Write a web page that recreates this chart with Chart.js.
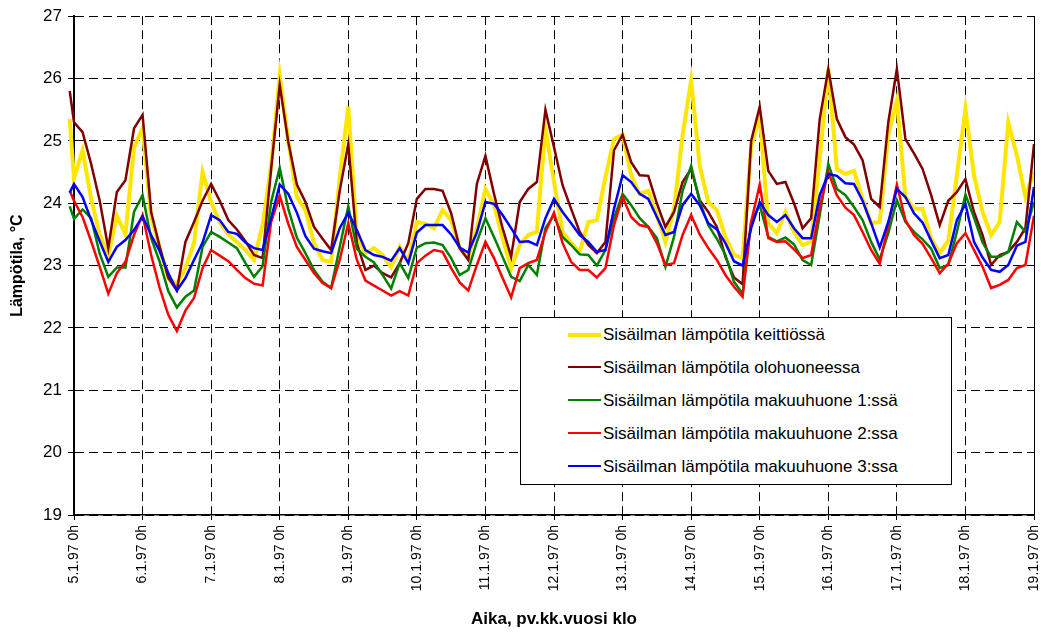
<!DOCTYPE html>
<html lang="fi">
<head>
<meta charset="utf-8">
<title>Sisäilman lämpötilat 5.1.–19.1.1997</title>
<script src="https://cdn.jsdelivr.net/npm/chart.js@4/dist/chart.umd.min.js"></script>
<style>
    html, body { margin: 0; padding: 0; background: #fff; }
    #wrap { position: relative; width: 1041px; height: 632px; }
    #legend {
        position: absolute; left: 520px; top: 317px; width: 430px; height: 166px;
        border: 1px solid #000; background: #fff;
        font: 17px "Liberation Sans", Arial, sans-serif; color: #000;
    }
    #legend .row { position: absolute; left: 0; height: 33px; line-height: 33px; white-space: nowrap; }
    #legend .swatch { position: absolute; left: 47px; top: 15px; width: 33px; }
    #legend .txt { position: absolute; left: 82px; top: 0; }
</style>
</head>
<body>
<div id="wrap">
    <canvas id="lampoChart" width="1041" height="632"></canvas>
    <div id="legend"></div>
</div>
<script>
(function () {
    // aikaleimat tunteina alkaen 5.1.97 klo 0, mittaus 3 h välein
    const DAY_LABELS = ['5.1.97 0h', '6.1.97 0h', '7.1.97 0h', '8.1.97 0h', '9.1.97 0h',
        '10.1.97 0h', '11.1.97 0h', '12.1.97 0h', '13.1.97 0h', '14.1.97 0h',
        '15.1.97 0h', '16.1.97 0h', '17.1.97 0h', '18.1.97 0h', '19.1.97 0h'];
    const HOURS = [-1.5];
    for (let h = 0; h <= 336; h += 3) HOURS.push(h);
    HOURS.push(337.5);

    // --- lämpötilat, °C (rivi = vuorokausi, klo 0, 3, ..., 21) ---
    const KEITTIO = [25.35,
        24.4, 24.85, 24.07, 23.5, 23.17, 23.8, 23.5, 24.9,
        25.2, 23.78, 23.28, 22.8, 22.7, 22.96, 23.36, 24.5,
        24.02, 23.7, 23.5, 23.38, 23.25, 23.09, 23.65, 24.6,
        26.05, 25.0, 24.1, 23.89, 23.36, 23.09, 23.06, 24.4,
        25.55, 23.46, 23.2, 23.28, 23.17, 22.98, 23.3, 23.06,
        23.7, 23.67, 23.6, 23.89, 23.73, 23.28, 23.14, 23.6,
        24.23, 23.97, 23.44, 22.96, 23.33, 23.49, 23.54, 25.2,
        24.34, 23.54, 23.36, 23.22, 23.7, 23.73, 24.42, 25.03,
        25.1, 24.45, 24.15, 24.2, 23.81, 23.38, 23.91, 25.09,
        25.97, 24.6, 24.02, 23.89, 23.46, 23.17, 23.12, 24.9,
        25.4, 23.68, 23.52, 23.86, 23.54, 23.33, 23.38, 24.7,
        26.15, 24.55, 24.47, 24.52, 24.07, 23.68, 23.7, 25.1,
        25.65, 24.1, 23.91, 23.91, 23.44, 23.2, 23.4, 24.45,
        25.51, 24.45, 23.86, 23.49, 23.7, 25.3, 24.77, 24.1,
        24.5, 24.34];

    const OLOHUONE = [25.8,
        25.3, 25.14, 24.63, 24.04, 23.28, 24.18, 24.37, 25.2,
        25.42, 23.86, 23.3, 22.8, 22.6, 23.38, 23.7, 24.04,
        24.31, 24.04, 23.73, 23.58, 23.39, 23.17, 23.12, 24.55,
        25.9, 24.98, 24.3, 24.02, 23.62, 23.43, 23.25, 24.2,
        24.95, 23.36, 22.93, 23.0, 22.88, 22.81, 23.04, 23.36,
        24.07, 24.23, 24.23, 24.2, 23.84, 23.28, 23.09, 24.31,
        24.76, 24.15, 23.6, 23.14, 24.02, 24.23, 24.34, 25.5,
        24.9, 24.29, 23.91, 23.54, 23.33, 23.2, 23.38, 24.85,
        25.1, 24.66, 24.45, 24.44, 24.0, 23.62, 23.86, 24.34,
        24.55, 24.05, 23.86, 23.62, 23.14, 22.81, 22.7, 25.0,
        25.55, 24.52, 24.31, 24.34, 24.0, 23.6, 23.76, 25.35,
        26.15, 25.35, 25.06, 24.94, 24.69, 24.07, 23.94, 25.3,
        26.15, 25.03, 24.8, 24.55, 24.13, 23.65, 24.04, 24.18,
        24.39, 23.86, 23.49, 23.01, 23.17, 23.22, 23.38, 23.6,
        24.95, 24.92];

    const MAKUUHUONE_1 = [23.95,
        23.75, 23.9, 23.76, 23.19, 22.82, 22.97, 22.97, 23.86,
        24.13, 23.44, 23.06, 22.59, 22.33, 22.5, 22.6, 23.3,
        23.54, 23.46, 23.37, 23.28, 23.04, 22.82, 22.99, 24.02,
        24.57, 23.91, 23.45, 23.2, 22.93, 22.74, 22.64, 23.3,
        23.95, 23.27, 23.14, 23.05, 22.85, 22.63, 23.04, 22.8,
        23.29, 23.36, 23.37, 23.33, 23.12, 22.85, 22.93, 23.38,
        23.76, 23.46, 23.14, 22.82, 22.75, 23.01, 22.85, 23.6,
        23.81, 23.46, 23.33, 23.18, 23.17, 23.0, 23.25, 23.76,
        24.15, 23.97, 23.76, 23.62, 23.44, 22.98, 23.46, 24.2,
        24.6, 24.03, 23.65, 23.43, 23.17, 22.74, 22.55, 23.7,
        23.97, 23.46, 23.39, 23.45, 23.34, 23.09, 23.01, 23.81,
        24.63, 24.23, 24.13, 23.94, 23.73, 23.38, 23.1, 23.52,
        24.05, 23.7, 23.54, 23.42, 23.27, 22.96, 23.01, 23.54,
        24.14, 23.77, 23.37, 23.14, 23.14, 23.22, 23.7, 23.54,
        24.02, 23.97];

    const MAKUUHUONE_2 = [24.2,
        24.04, 23.78, 23.39, 22.98, 22.55, 22.88, 23.06, 23.49,
        23.81, 23.17, 22.64, 22.21, 21.95, 22.28, 22.48, 22.96,
        23.25, 23.16, 23.07, 22.93, 22.8, 22.71, 22.68, 23.7,
        24.12, 23.67, 23.3, 23.09, 22.88, 22.72, 22.64, 23.09,
        23.68, 23.09, 22.76, 22.68, 22.6, 22.52, 22.59, 22.52,
        23.04, 23.16, 23.25, 23.22, 22.96, 22.73, 22.6, 23.01,
        23.38, 23.12, 22.8, 22.49, 22.96, 23.04, 23.09, 23.54,
        23.85, 23.36, 23.06, 22.93, 22.93, 22.81, 22.96, 23.65,
        24.1, 23.78, 23.65, 23.62, 23.36, 23.01, 23.04, 23.49,
        23.81, 23.5, 23.28, 23.09, 22.85, 22.66, 22.5, 23.7,
        24.3, 23.44, 23.38, 23.39, 23.26, 23.12, 23.17, 23.94,
        24.5, 24.13, 23.93, 23.81, 23.54, 23.25, 23.03, 23.65,
        24.3, 23.73, 23.49, 23.35, 23.12, 22.88, 23.03, 23.36,
        23.52, 23.25, 22.98, 22.64, 22.69, 22.77, 22.96, 23.01,
        23.8, 23.7];

    const MAKUUHUONE_3 = [24.17,
        24.31, 24.1, 23.73, 23.39, 23.06, 23.3, 23.41, 23.57,
        23.79, 23.49, 23.23, 22.88, 22.6, 22.8, 23.09, 23.37,
        23.81, 23.73, 23.54, 23.51, 23.37, 23.28, 23.25, 23.76,
        24.3, 24.15, 23.85, 23.47, 23.27, 23.23, 23.2, 23.6,
        23.85, 23.57, 23.25, 23.17, 23.14, 23.08, 23.28, 23.04,
        23.53, 23.65, 23.65, 23.65, 23.5, 23.29, 23.21, 23.53,
        24.02, 23.99, 23.81, 23.6, 23.38, 23.39, 23.33, 23.76,
        24.07, 23.86, 23.68, 23.49, 23.38, 23.22, 23.25, 23.91,
        24.45, 24.34, 24.15, 24.07, 23.78, 23.49, 23.54, 23.97,
        24.15, 23.97, 23.68, 23.58, 23.36, 23.07, 23.0, 23.6,
        24.02, 23.81, 23.7, 23.81, 23.6, 23.44, 23.44, 24.13,
        24.47, 24.44, 24.32, 24.31, 24.04, 23.68, 23.29, 23.7,
        24.23, 24.1, 23.84, 23.69, 23.4, 23.12, 23.17, 23.73,
        23.99, 23.38, 23.13, 22.93, 22.9, 23.01, 23.32, 23.38,
        24.26, 24.26];

    const FONT = '"Liberation Sans", Arial, sans-serif';

    // keittiö piirretään alimmaksi, makuuhuone 3 päällimmäiseksi
    const SERIES = [
        { label: 'Sisäilman lämpötila keittiössä', data: KEITTIO, color: '#FFE600', width: 4, order: 5 },
        { label: 'Sisäilman lämpötila olohuoneessa', data: OLOHUONE, color: '#800000', width: 2.5, order: 4 },
        { label: 'Sisäilman lämpötila makuuhuone 1:ssä', data: MAKUUHUONE_1, color: '#008000', width: 2.5, order: 3 },
        { label: 'Sisäilman lämpötila makuuhuone 2:ssa', data: MAKUUHUONE_2, color: '#FF0000', width: 2.5, order: 2 },
        { label: 'Sisäilman lämpötila makuuhuone 3:ssa', data: MAKUUHUONE_3, color: '#0000FF', width: 2.5, order: 1 }
    ];

    // oikea reunaviiva kuva-alueelle
    const rightEdge = {
        id: 'rightEdge',
        afterDatasetsDraw(chart) {
            const { ctx, chartArea: a } = chart;
            ctx.save();
            ctx.strokeStyle = '#000';
            ctx.lineWidth = 1;
            ctx.beginPath();
            ctx.moveTo(Math.round(a.right) + 0.5, a.top);
            ctx.lineTo(Math.round(a.right) + 0.5, a.bottom);
            ctx.stroke();
            ctx.restore();
        }
    };

    const chart = new Chart(document.getElementById('lampoChart'), {
        type: 'line',
        data: {
            datasets: SERIES.map(s => ({
                label: s.label,
                data: HOURS.map((h, i) => ({ x: h, y: s.data[i] })),
                borderColor: s.color,
                backgroundColor: s.color,
                borderWidth: s.width,
                pointRadius: 0,
                tension: 0,
                fill: false,
                clip: false,
                order: s.order
            }))
        },
        options: {
            responsive: false,
            animation: false,
            layout: { padding: { left: 0, right: 7, top: 13, bottom: 0 } },
            plugins: { legend: { display: false }, tooltip: { enabled: false } },
            scales: {
                x: {
                    type: 'linear',
                    min: 0,
                    max: 336,
                    afterFit: sc => { sc.height = 117; sc.paddingLeft = 0; sc.paddingRight = 0; },
                    ticks: {
                        stepSize: 24,
                        autoSkip: false,
                        minRotation: 90,
                        maxRotation: 90,
                        padding: 5,
                        color: '#000',
                        font: { family: FONT, size: 14 },
                        callback: v => DAY_LABELS[Math.round(v / 24)]
                    },
                    grid: { color: '#000', lineWidth: 1, tickLength: 5, tickColor: '#000' },
                    border: { display: true, color: '#000', width: 1.5, dash: [9, 5] },
                    title: {
                        display: true,
                        text: 'Aika, pv.kk.vuosi klo',
                        color: '#000',
                        font: { family: FONT, size: 17, weight: 'bold' },
                        padding: { top: 0, bottom: 2 }
                    }
                },
                y: {
                    min: 19,
                    max: 27,
                    afterFit: sc => { sc.width = 74; },
                    ticks: {
                        stepSize: 1,
                        padding: 6,
                        color: '#000',
                        font: { family: FONT, size: 17 }
                    },
                    grid: { color: '#000', lineWidth: 1, tickLength: 6, tickColor: '#000' },
                    border: { display: true, color: '#000', width: 2, dash: [9, 5] },
                    title: {
                        display: true,
                        text: 'Lämpötila, °C',
                        color: '#000',
                        font: { family: FONT, size: 16, weight: 'bold' },
                        padding: { top: 8, bottom: 0 }
                    }
                }
            }
        },
        plugins: [rightEdge]
    });

    // --- selite ---
    const legendEl = document.getElementById('legend');
    SERIES.forEach((s, i) => {
        const row = document.createElement('div');
        row.className = 'row';
        row.style.top = (i * 33) + 'px';
        const sw = document.createElement('div');
        sw.className = 'swatch';
        sw.style.borderTop = s.width + 'px solid ' + s.color;
        sw.style.top = (16.5 - s.width / 2) + 'px';
        const txt = document.createElement('div');
        txt.className = 'txt';
        txt.textContent = s.label;
        row.appendChild(sw);
        row.appendChild(txt);
        legendEl.appendChild(row);
    });
})();
</script>
</body>
</html>
